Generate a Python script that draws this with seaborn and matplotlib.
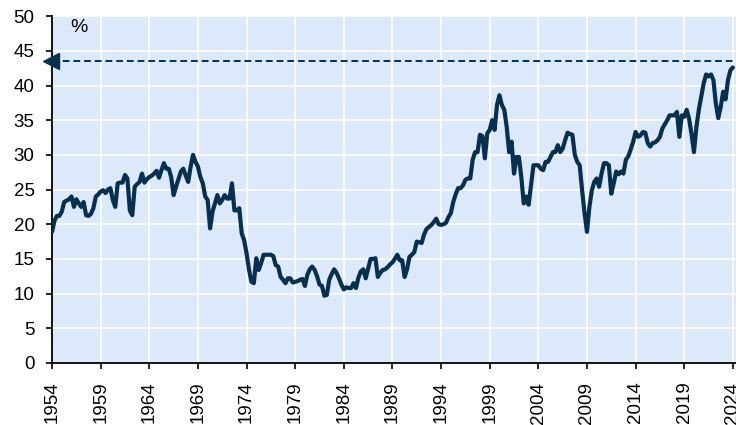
import numpy as np
import pandas as pd
import matplotlib
matplotlib.use("Agg")
import matplotlib.pyplot as plt
import seaborn as sns

# quarterly readings, starting Q1 1954
start_year = 1954
values = [
    18.9, 20.5, 21.2, 21.2,  # 1954
    21.8, 23.2, 23.4, 23.6,  # 1955
    24.0, 22.5, 23.6, 23.0,  # 1956
    22.5, 23.2, 21.3, 21.2,  # 1957
    21.5, 22.3, 24.0, 24.3,  # 1958
    24.7, 24.9, 24.5, 25.0,  # 1959
    25.2, 23.5, 22.5, 25.9,  # 1960
    26.0, 26.0, 27.1, 26.6,  # 1961
    22.0, 21.3, 25.4, 25.8,  # 1962
    26.1, 27.3, 26.0, 26.5,  # 1963
    26.8, 27.0, 27.3, 27.7,  # 1964
    26.7, 27.8, 28.8, 28.0,  # 1965
    28.0, 26.8, 24.2, 25.4,  # 1966
    26.5, 27.6, 28.0, 27.0,  # 1967
    26.1, 28.3, 30.0, 29.0,  # 1968
    28.3, 26.8, 25.9, 24.0,  # 1969
    23.5, 19.4, 21.8, 23.0,  # 1970
    24.2, 23.0, 23.5, 24.2,  # 1971
    23.7, 23.7, 25.9, 22.0,  # 1972
    22.0, 22.3, 18.7, 17.7,  # 1973
    15.8, 13.5, 11.7, 11.5,  # 1974
    15.1, 13.4, 14.4, 15.6,  # 1975
    15.6, 15.6, 15.6, 15.4,  # 1976
    14.1, 13.9, 12.4, 12.0,  # 1977
    11.5, 12.2, 12.2, 11.6,  # 1978
    11.7, 11.8, 12.0, 12.1,  # 1979
    11.1, 12.7, 13.5, 13.9,  # 1980
    13.4, 12.5, 11.3, 11.1,  # 1981
    9.7, 9.8, 12.0, 12.8,    # 1982
    13.5, 13.0, 12.2, 11.3,  # 1983
    10.6, 10.9, 10.8, 10.8,  # 1984
    11.5, 10.8, 12.3, 13.2,  # 1985
    13.5, 12.2, 13.6, 15.0,  # 1986
    15.0, 15.1, 12.4, 13.0,  # 1987
    13.4, 13.5, 13.8, 14.2,  # 1988
    14.5, 15.0, 15.6, 14.8,  # 1989
    14.8, 12.4, 13.5, 15.3,  # 1990
    15.6, 16.0, 17.5, 17.4,  # 1991
    17.3, 18.5, 19.3, 19.6,  # 1992
    19.9, 20.3, 20.8, 20.0,  # 1993
    19.9, 20.0, 20.2, 21.0,  # 1994
    21.6, 23.2, 24.3, 25.2,  # 1995
    25.2, 25.6, 26.4, 26.6,  # 1996
    26.6, 29.3, 30.4, 30.4,  # 1997
    32.9, 32.7, 29.5, 33.1,  # 1998
    33.6, 35.0, 33.6, 37.2,  # 1999
    38.6, 37.2, 36.5, 34.0,  # 2000
    30.4, 31.9, 27.3, 29.7,  # 2001
    29.7, 26.8, 23.0, 24.0,  # 2002
    22.8, 25.6, 28.5, 28.5,  # 2003
    28.5, 28.0, 27.8, 29.0,  # 2004
    29.0, 29.7, 30.4, 30.4,  # 2005
    31.4, 30.4, 30.9, 32.1,  # 2006
    33.2, 33.0, 32.9, 30.0,  # 2007
    29.0, 28.5, 24.9, 21.6,  # 2008
    18.9, 22.5, 24.9, 26.1,  # 2009
    26.6, 25.4, 27.3, 28.8,  # 2010
    28.8, 28.5, 24.4, 25.9,  # 2011
    27.6, 27.2, 27.6, 27.3,  # 2012
    29.3, 29.8, 30.8, 31.9,  # 2013
    33.3, 32.6, 32.8, 33.3,  # 2014
    33.2, 31.7, 31.2, 31.7,  # 2015
    31.8, 32.1, 32.6, 33.8,  # 2016
    34.4, 35.0, 35.7, 35.7,  # 2017
    35.7, 36.2, 32.6, 35.7,  # 2018
    35.5, 36.5, 35.2, 33.0,  # 2019
    30.4, 34.0, 36.5, 38.4,  # 2020
    40.3, 41.6, 41.3, 41.6,  # 2021
    40.8, 37.4, 35.3, 36.9,  # 2022
    39.1, 38.0, 40.8, 42.2,  # 2023
    42.6,                    # 2024
]
x_ticks = list(range(1954, 2025, 5))
y_ticks = list(range(0, 51, 5))
ref_level = 43.5
unit_label = "%"

navy = "#07304f"
bg = "#dce9fb"

df = pd.DataFrame({"year": start_year + np.arange(len(values)) / 4, "value": values})

sns.set_theme(style="whitegrid")
plt.rcParams['font.family'] = ['Liberation Sans', 'DejaVu Sans']

fig = plt.figure(figsize=(7.36, 4.25), dpi=100)
ax = fig.add_axes([0.0707, 0.146, 0.929, 0.816])
ax.set_facecolor(bg)

sns.lineplot(data=df, x="year", y="value", ax=ax, color=navy, linewidth=3.0, zorder=3)

# reference level, dashed with arrow head on the axis
ax.axhline(ref_level, color=navy, linewidth=1.4, linestyle=(0, (3.5, 2)), zorder=2)
ax.plot([1953.85], [ref_level], marker="<", markersize=11, color=navy,
        clip_on=False, zorder=4)

ax.set_xlim(1954, 2024.3)
ax.set_ylim(0, 50)
ax.set_xticks(x_ticks)
ax.set_yticks(y_ticks)
ax.set_xticklabels([str(t) for t in x_ticks], rotation=90)
ax.set_xlabel("")
ax.set_ylabel("")

ax.grid(True, color="white", linewidth=1.2)
ax.set_axisbelow(True)
for side in ["top", "right"]:
    ax.spines[side].set_visible(False)
for side in ["left", "bottom"]:
    ax.spines[side].set_visible(True)
    ax.spines[side].set_color("black")
    ax.spines[side].set_linewidth(1.3)

ax.tick_params(axis="both", which="major", direction="out", length=4.5, width=1.2,
               color="black", labelsize=13.5, labelcolor="black")
ax.tick_params(axis="y", pad=8)
ax.tick_params(axis="x", pad=9)
ax.tick_params(left=True, bottom=True)

ax.text(1956.8, 48.3, unit_label, fontsize=14, ha="center", va="center", color="black")

fig.savefig("out.png", dpi=100)
